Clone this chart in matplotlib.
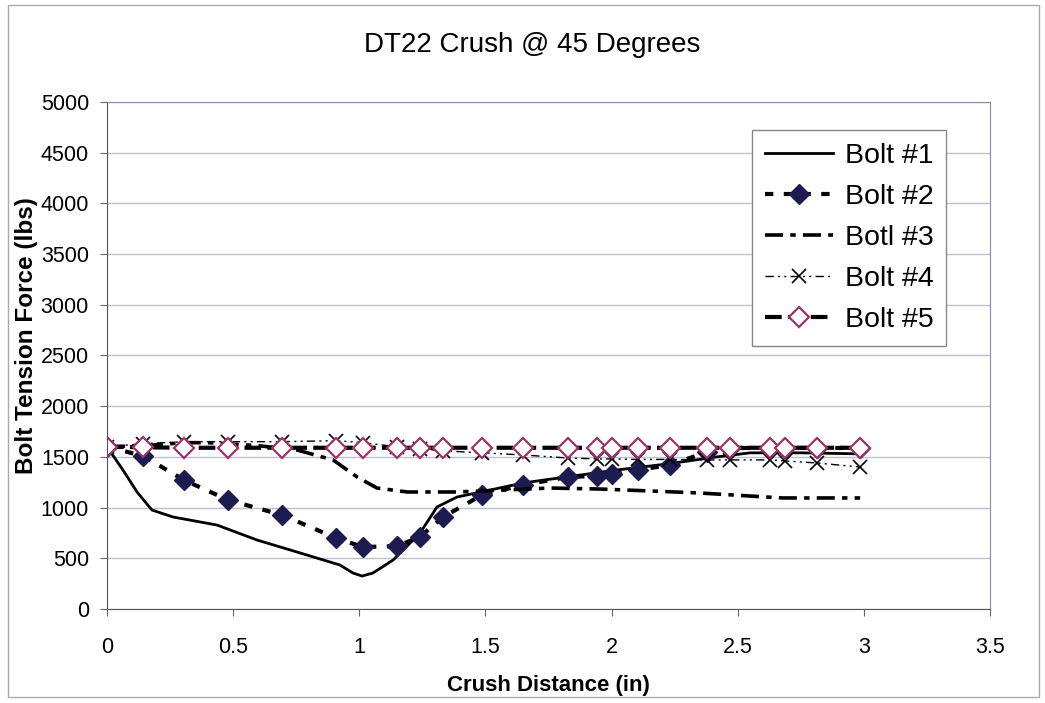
import numpy as np
import matplotlib.pyplot as plt
from matplotlib.patches import Rectangle

plt.rcParams['font.family'] = ['Liberation Sans', 'DejaVu Sans']

# shared x positions of the marker series (Bolt 2, 4, 5)
x_pts = [0, 0.143, 0.305, 0.48, 0.694, 0.908, 1.015, 1.149, 1.24, 1.332, 1.486,
         1.649, 1.827, 1.942, 2.0, 2.105, 2.23, 2.378, 2.47, 2.628, 2.687, 2.814, 2.985]
bolt2 = [1600, 1509, 1272, 1075, 927, 700, 611, 620, 710, 907, 1124,
         1223, 1302, 1312, 1331, 1371, 1420, 1548, 1588, 1588, 1588, 1588, 1588]
bolt4 = [1600, 1630, 1650, 1650, 1650, 1660, 1640, 1600, 1580, 1560, 1540,
         1519, 1489, 1480, 1480, 1475, 1475, 1470, 1470, 1470, 1460, 1440, 1400]
bolt5 = [1600, 1595, 1590, 1590, 1590, 1590, 1590, 1590, 1590, 1590, 1590,
         1590, 1590, 1590, 1590, 1590, 1590, 1590, 1590, 1590, 1590, 1590, 1590]

x_b1 = [0, 0.063, 0.119, 0.178, 0.262, 0.436, 0.595, 0.753, 0.923, 0.975, 1.011,
        1.054, 1.134, 1.241, 1.308, 1.387, 1.518, 1.649, 2.021, 2.22, 2.418, 2.549, 2.75, 2.985]
bolt1 = [1600, 1371, 1154, 976, 907, 828, 680, 562, 434, 355, 325,
         355, 483, 750, 1006, 1104, 1173, 1243, 1371, 1430, 1500, 1540, 1540, 1530]

x_b3 = [0, 0.15, 0.3, 0.4, 0.6, 0.753, 0.896, 0.991, 1.07, 1.19, 1.39,
        1.756, 1.954, 2.152, 2.35, 2.549, 2.679, 2.985]
bolt3 = [1600, 1610, 1640, 1640, 1610, 1568, 1470, 1302, 1193, 1154, 1154,
         1193, 1183, 1164, 1144, 1114, 1095, 1095]

fig = plt.figure(figsize=(10.45, 7.03), dpi=100)
ax = fig.add_axes([0.1024, 0.1337, 0.845, 0.7213])

ax.plot(x_b1, bolt1, color='black', lw=2, ls='-', label='Bolt #1')
ax.plot(x_pts, bolt2, color='black', lw=3, ls=(0, (2, 2.5)),
        marker='D', ms=10, mfc='#1c1c50', mec='#1c1c50', label='Bolt #2')
ax.plot(x_b3, bolt3, color='black', lw=2.6, ls=(0, (5, 2, 1.5, 2)), label='Botl #3')
ax.plot(x_pts, bolt4, color='black', lw=1, ls=(0, (6, 3, 1.5, 3, 1.5, 3)),
        marker='x', ms=10, mew=1.2, label='Bolt #4')
ax.plot(x_pts, bolt5, color='black', lw=3, ls=(0, (4, 1.5)),
        marker='D', ms=10, mfc='white', mec='#99336a', mew=1.6, label='Bolt #5')

ax.set_xlim(0, 3.5)
ax.set_ylim(0, 5000)
ax.set_xticks(np.arange(0, 3.51, 0.5))
ax.set_xticklabels(['0', '0.5', '1', '1.5', '2', '2.5', '3', '3.5'])
ax.set_yticks(np.arange(0, 5001, 500))
ax.tick_params(labelsize=15.5, length=5, color='#666666', pad=8)
ax.tick_params(axis='x', pad=15)
ax.yaxis.grid(True, color='#bcc0cc', lw=1)
ax.set_axisbelow(True)
for s in ['left', 'bottom']:
    ax.spines[s].set_color('#555555')
for s in ['top', 'right']:
    ax.spines[s].set_color('#8888aa')

ax.set_xlabel('Crush Distance (in)', fontsize=16, fontweight='bold')
ax.xaxis.set_label_coords(0.5, -0.13)
ax.set_ylabel('Bolt Tension Force (lbs)', fontsize=17.5, fontweight='bold')
ax.yaxis.set_label_coords(-0.078, 0.54)
fig.text(0.509, 0.936, 'DT22 Crush @ 45 Degrees', fontsize=20, ha='center', va='center')

leg = ax.legend(loc='upper left', bbox_to_anchor=(0.7196, 0.815), bbox_transform=fig.transFigure,
                fontsize=20.5, handlelength=2.4, fancybox=False, framealpha=1,
                edgecolor='#888888', borderpad=0.45, labelspacing=0.53, handletextpad=0.4,
                borderaxespad=0)
leg.get_frame().set_linewidth(1)

fig.patches.append(Rectangle((0.008, 0.008), 0.986, 0.985, transform=fig.transFigure,
                             fill=False, edgecolor='#aaaaaa', lw=1))

fig.savefig('out.png', dpi=100)
